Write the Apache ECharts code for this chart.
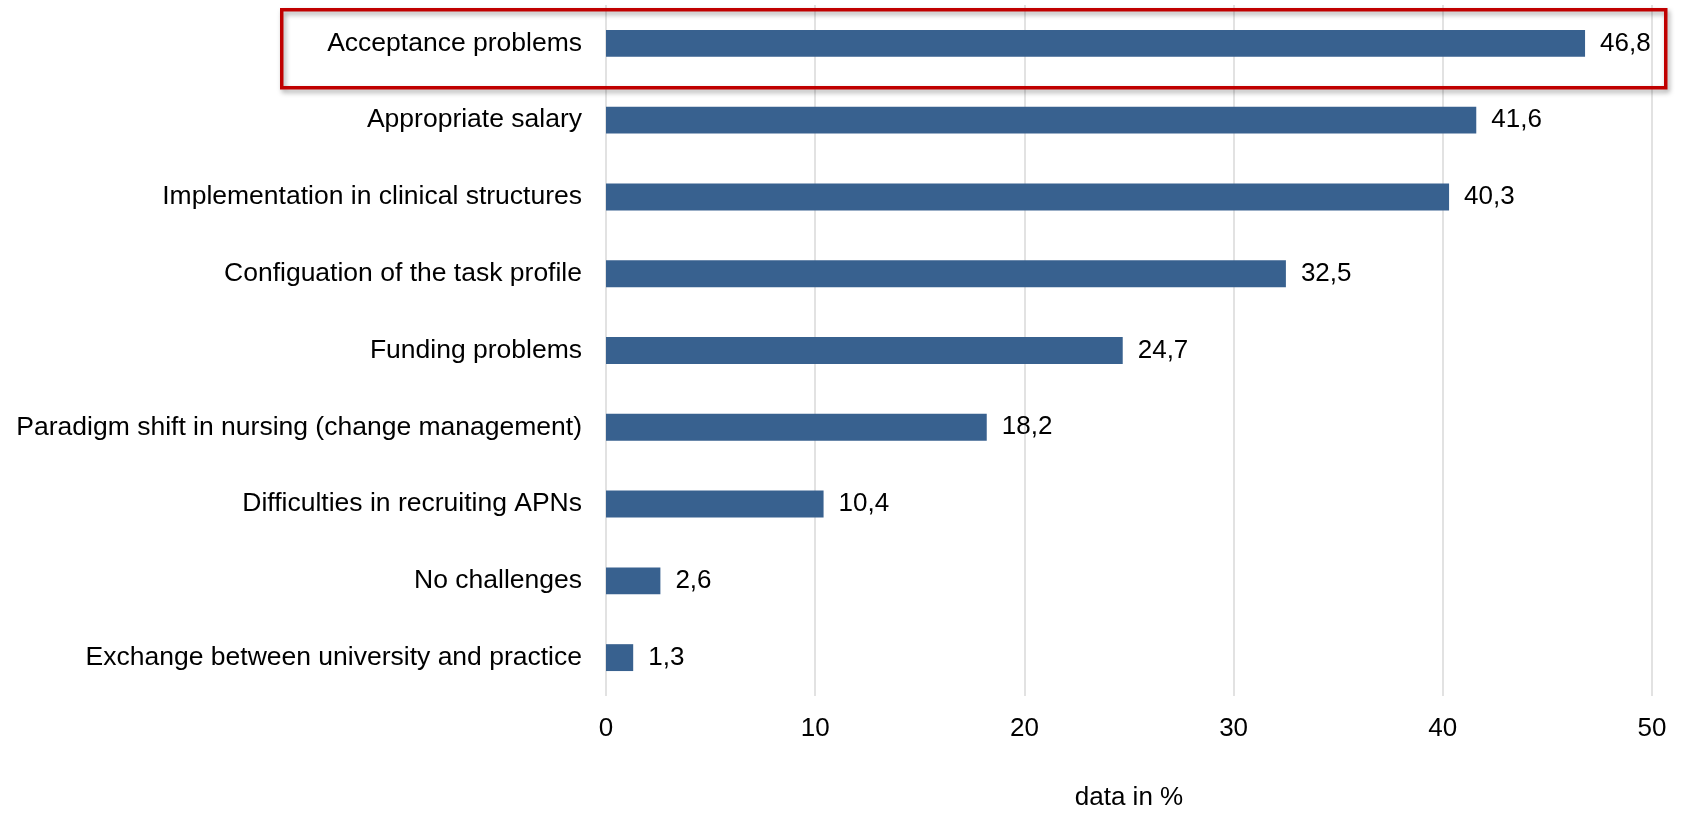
<!DOCTYPE html>
<html>
<head>
<meta charset="utf-8">
<script src="https://cdn.jsdelivr.net/npm/echarts@6/dist/echarts.min.js"></script>
<style>html,body{margin:0;padding:0;background:#fff}#c{width:1681px;height:816px}</style>
</head>
<body>
<div id="c"></div>
<script>
const categories = [
  "Acceptance problems",
  "Appropriate salary",
  "Implementation in clinical structures",
  "Configuation of the task profile",
  "Funding problems",
  "Paradigm shift in nursing (change management)",
  "Difficulties in recruiting APNs",
  "No challenges",
  "Exchange between university and practice"
];
const values = [46.8, 41.6, 40.3, 32.5, 24.7, 18.2, 10.4, 2.6, 1.3];
const xTicks = [0, 10, 20, 30, 40, 50];
const axisName = "data in %";

const FONT = "'Liberation Sans', Arial, sans-serif";
const chart = echarts.init(document.getElementById('c'));
chart.setOption({
  animation: false,
  grid: { left: 606, right: 29, top: 5, bottom: 112 },
  xAxis: {
    type: 'value', min: xTicks[0], max: xTicks[xTicks.length - 1], interval: 10,
    name: axisName, nameLocation: 'middle', nameGap: 89,
    nameTextStyle: { fontFamily: FONT, fontSize: 26, color: '#000' },
    axisLine: { show: false }, axisTick: { show: false },
    axisLabel: { fontFamily: FONT, fontSize: 26, color: '#000', margin: 20 },
    splitLine: { show: true, lineStyle: { color: '#d9d9d9', width: 1.5 } }
  },
  yAxis: {
    type: 'category', data: categories, inverse: true,
    axisLine: { show: false }, axisTick: { show: false },
    axisLabel: { fontFamily: FONT, fontSize: 26.5, color: '#000', margin: 24 }
  },
  series: [{
    type: 'bar', data: values, barWidth: '35%',
    itemStyle: { color: '#38618f' },
    label: {
      show: true, position: 'right', distance: 15,
      fontFamily: FONT, fontSize: 26, color: '#000',
      formatter: p => String(p.value).replace('.', ',')
    }
  }],
  graphic: [{
    type: 'rect', left: 280, top: 8, z: 100,
    shape: { width: 1384, height: 78 },
    style: {
      fill: 'transparent', stroke: '#c00000', lineWidth: 3.5,
      shadowBlur: 5, shadowOffsetX: 2, shadowOffsetY: 3, shadowColor: 'rgba(0,0,0,0.35)'
    }
  }]
});
</script>
</body>
</html>
